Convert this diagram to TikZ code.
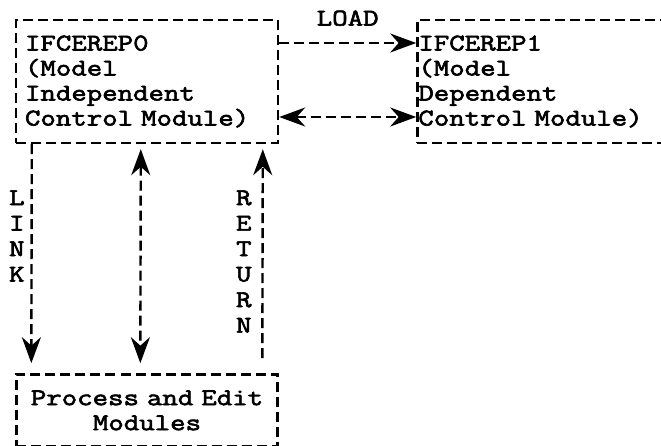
\documentclass[tikz,border=0pt]{standalone}
\usepackage{fontspec}
\newfontfamily\ibmfont[FakeStretch=1.25, FakeBold=2.6]{Latin Modern Mono}
\usetikzlibrary{arrows.meta, positioning, calc}

\begin{document}
\begin{tikzpicture}[
    box/.style={draw, line width=2.4pt, dash pattern=on 10pt off 5pt, align=left, inner ysep=0pt,
        font=\ibmfont\fontsize{24}{25}\selectfont},
    lbl/.style={inner sep=0pt, font=\ibmfont\fontsize{24}{25}\selectfont},
    vlbl/.style={lbl, align=center, font=\ibmfont\fontsize{24}{25.5}\selectfont},
    arrow/.style={-{Stealth[length=26pt, width=19pt]}, line width=2.4pt, dash pattern=on 10pt off 5pt},
    arrows2/.style={{Stealth[length=26pt, width=19pt]}-{Stealth[length=26pt, width=19pt]}, line width=2.4pt, dash pattern=on 10pt off 5pt}
]
\useasboundingbox (-147pt,81.5pt) rectangle (514pt,-364.5pt);

\node[box, inner xsep=9pt, text width=244pt, minimum height=123pt] (ctl0) at (0,0)
    {IFCEREP0\\(Model\\Independent\\Control Module)};
\node[box, inner xsep=1pt, text width=243pt, minimum height=123pt, right=137pt of ctl0] (ctl1)
    {IFCEREP1\\(Model\\Dependent\\Control Module)};
\node[box, align=center, inner xsep=9pt, text width=243pt, minimum height=72pt, below=229pt of ctl0] (edit)
    {Process and Edit\\Modules};

\draw[arrow] ([yshift=38.5pt]ctl0.east) -- ([yshift=38.5pt]ctl1.west)
    node[lbl, midway, above=16pt] (load) {LOAD};
\draw[arrows2] ([yshift=-35.5pt]ctl0.east) -- ([yshift=-35.5pt]ctl1.west);

\draw[arrow, shorten >=10pt] ([xshift=17pt]ctl0.south west) -- ([xshift=16pt]edit.north west);
\draw[arrows2, shorten <=5pt, shorten >=10pt] ([xshift=126pt]ctl0.south west) -- ([xshift=125pt]edit.north west);
\draw[arrow, shorten <=15pt, shorten >=5pt] ([xshift=247pt]edit.north west) -- ([xshift=248pt]ctl0.south west);

\node[vlbl, anchor=north] (link) at ([xshift=2pt, yshift=-46pt]ctl0.south west) {L\\I\\N\\K};
\node[vlbl, anchor=north] (ret) at ([xshift=229pt, yshift=-46pt]ctl0.south west) {R\\E\\T\\U\\R\\N};
\end{tikzpicture}
\end{document}
